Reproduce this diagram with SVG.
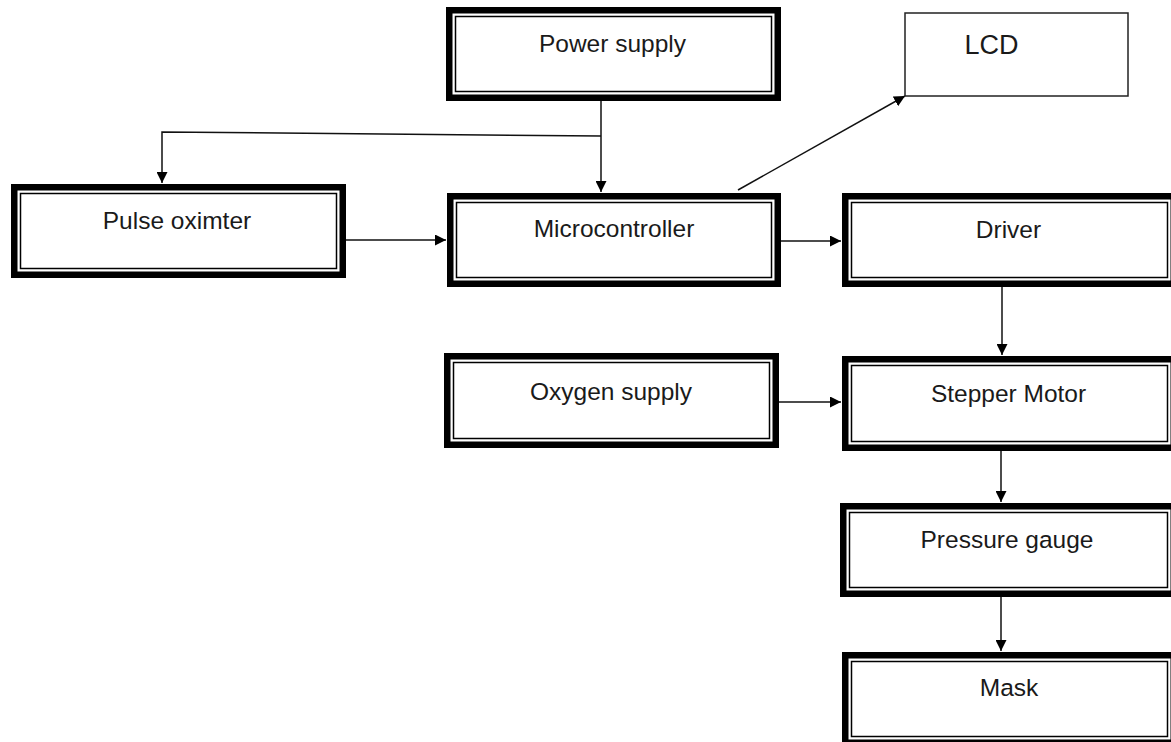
<svg xmlns="http://www.w3.org/2000/svg" width="1171" height="742" viewBox="0 0 1171 742">
<style>
.outer{fill:#fff;stroke:#000;stroke-width:6.5}
.inner{fill:none;stroke:#000;stroke-width:1.5}
.thin{fill:#fff;stroke:#222;stroke-width:1.5}
.lbl{font-family:"Liberation Sans",Arial,sans-serif;font-size:24.5px;fill:#1a1a1a;text-anchor:middle}
.conn{fill:none;stroke:#111;stroke-width:1.5}
</style>
<defs>
<marker id="arr" viewBox="0 0 10 10" refX="10" refY="5" markerWidth="11" markerHeight="11" markerUnits="userSpaceOnUse" orient="auto">
<path d="M0,0 L10,5 L0,10 z" fill="#000"/>
</marker>
</defs>
<rect width="1171" height="742" fill="#fff"/>
<g id="connectors">
<line class="conn" x1="601" y1="101" x2="601" y2="192" marker-end="url(#arr)"/>
<polyline class="conn" points="601,136 162,132 162,183" marker-end="url(#arr)"/>
<line class="conn" x1="346" y1="240" x2="446" y2="240" marker-end="url(#arr)"/>
<line class="conn" x1="738" y1="190" x2="905" y2="96" marker-end="url(#arr)"/>
<line class="conn" x1="781" y1="241" x2="841" y2="241" marker-end="url(#arr)"/>
<line class="conn" x1="1002" y1="287" x2="1002" y2="355" marker-end="url(#arr)"/>
<line class="conn" x1="779" y1="402" x2="841" y2="402" marker-end="url(#arr)"/>
<line class="conn" x1="1001" y1="451" x2="1001" y2="502" marker-end="url(#arr)"/>
<line class="conn" x1="1001" y1="597" x2="1001" y2="651" marker-end="url(#arr)"/>
</g>
<g id="power">
<rect class="outer" x="449.25" y="10.25" width="328.5" height="87.5"/>
<rect class="inner" x="455.5" y="16.5" width="316" height="75"/>
<text class="lbl" x="612.5" y="52">Power supply</text>
</g>
<g id="pulse">
<rect class="outer" x="14.25" y="187.25" width="328.5" height="87.5"/>
<rect class="inner" x="20.5" y="193.5" width="316" height="75"/>
<text class="lbl" x="177" y="229">Pulse oximter</text>
</g>
<g id="micro">
<rect class="outer" x="450.25" y="196.25" width="327.5" height="87.5"/>
<rect class="inner" x="456.5" y="202.5" width="315" height="75"/>
<text class="lbl" x="614" y="237">Microcontroller</text>
</g>
<g id="driver">
<rect class="outer" x="845.25" y="196.25" width="328.5" height="87.5"/>
<rect class="inner" x="851.5" y="202.5" width="316" height="75"/>
<text class="lbl" x="1008.5" y="238">Driver</text>
</g>
<g id="oxygen">
<rect class="outer" x="447.25" y="356.25" width="328.5" height="88.5"/>
<rect class="inner" x="453.5" y="362.5" width="316" height="76"/>
<text class="lbl" x="611" y="400">Oxygen supply</text>
</g>
<g id="stepper">
<rect class="outer" x="845.25" y="359.25" width="328.5" height="88.5"/>
<rect class="inner" x="851.5" y="365.5" width="316" height="76"/>
<text class="lbl" x="1008.5" y="402">Stepper Motor</text>
</g>
<g id="pressure">
<rect class="outer" x="843.25" y="506.25" width="330.5" height="87.5"/>
<rect class="inner" x="849.5" y="512.5" width="318" height="75"/>
<text class="lbl" x="1007" y="548">Pressure gauge</text>
</g>
<g id="mask">
<rect class="outer" x="845.25" y="655.25" width="328.5" height="87.5"/>
<rect class="inner" x="851.5" y="661.5" width="316" height="75"/>
<text class="lbl" x="1009" y="696">Mask</text>
</g>
<g id="lcd">
<rect class="thin" x="905" y="13" width="223" height="83"/>
<text class="lbl" x="991.5" y="54" style="font-size:27px">LCD</text>
</g>
</svg>
